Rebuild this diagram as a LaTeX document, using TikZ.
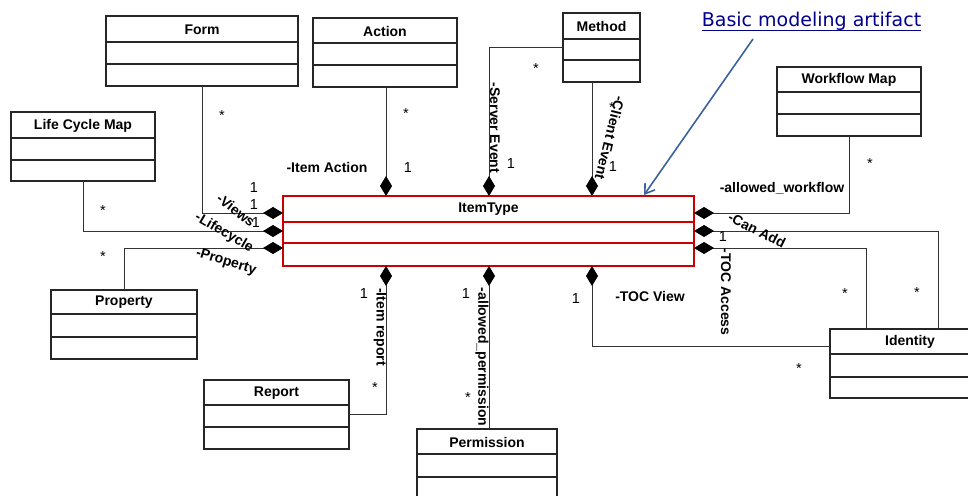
\documentclass[tikz,border=0pt]{standalone}
\usepackage{fontspec}
\setmainfont{Liberation Sans}
\newfontfamily\linkfont{DejaVu Sans}
\usetikzlibrary{arrows.meta,fit}
\definecolor{itred}{RGB}{204,0,0}
\definecolor{notecol}{RGB}{59,98,158}
\definecolor{linkcol}{RGB}{0,0,140}

% class box: [style]{name}{title}{x1}{y1}{x2}{y2}{first separator y}{second separator y}
\newcommand\umlclass[9][]{%
  \node[cls,#1,fit={(#4,#5)(#6,#7)}] (#2) {};
  \node[cname] (#2-name) at ({(#4+#6)/2},{(#5+#8)/2+0.5}) {#3};
  \draw[sep,#1] (#4,#8) -- (#6,#8) (#4,#9) -- (#6,#9);
}

\begin{document}
\begin{tikzpicture}[x=1pt,y=-1pt,
  cls/.style={draw=black!85,line width=1.2pt,inner sep=0pt,outer sep=0pt},
  sep/.style={draw=black!85,line width=1.2pt},
  redcls/.style={draw=itred,line width=1.5pt},
  cname/.style={font=\bfseries\fontsize{14}{16}\selectfont,inner sep=0pt},
  assoc/.style={draw=black!80,line width=0.9pt},
  comp/.style={assoc,{Diamond[length=20pt,width=12pt,black]}-},
  role/.style={font=\bfseries\fontsize{14}{16}\selectfont,inner sep=0pt},
  mult/.style={font=\fontsize{14.5}{16}\selectfont,inner sep=0pt},
  note/.style={draw=notecol,line width=1.6pt,-{Straight Barb[length=9pt,width=12pt]}},
]
\useasboundingbox (0,0) rectangle (968,495);
\clip (0,0) rectangle (968,495);

% classes
\umlclass{form}{Form}{106}{16}{298}{86}{42}{64}
\umlclass{action}{Action}{313}{18}{457}{87}{43}{65}
\umlclass{method}{Method}{563}{13}{640}{82}{39}{60}
\umlclass{lcm}{Life Cycle Map}{11}{112}{155}{181}{138}{160}
\umlclass[redcls]{itemtype}{ItemType}{283}{196}{694}{266}{222}{243}
\umlclass{workflow}{Workflow Map}{777}{67}{921}{136}{92}{114}
\umlclass{property}{Property}{51}{290}{197}{359}{314}{337}
\umlclass{report}{Report}{204}{380}{349}{449}{405}{427}
\umlclass{permission}{Permission}{417}{429}{557}{502}{454}{477}
\umlclass{identity}{Identity}{830}{329}{990}{398}{354}{377}

% composition ends on ItemType
\coordinate (p-views) at (283,213);
\coordinate (p-life)  at (283,231);
\coordinate (p-prop)  at (283,248);
\coordinate (p-act)   at (386,196);
\coordinate (p-srv)   at (489,196);
\coordinate (p-cli)   at (592,196);
\coordinate (p-rep)   at (386,266);
\coordinate (p-perm)  at (489,266);
\coordinate (p-toc)   at (592,266);
\coordinate (p-wf)    at (694,213);
\coordinate (p-add)   at (694,231);
\coordinate (p-acc)   at (694,248);
% entry points on Identity
\coordinate (toc-in) at (830,346);
\coordinate (add-in) at (938,329);
\coordinate (acc-in) at (866,329);

% associations
\draw[comp] (p-views) -| (form.south);
\draw[comp] (p-life) -| (lcm.south);
\draw[comp] (p-prop) -| (property.north);
\draw[comp] (p-act) -- (p-act |- action.south);
\draw[comp] (p-srv) |- (method.west);
\draw[comp] (p-cli) -- (p-cli |- method.south);
\draw[comp] (p-rep) |- (report.east);
\draw[comp] (p-perm) -- (p-perm |- permission.north);
\draw[comp] (p-toc) |- (toc-in);
\draw[comp] (p-wf) -| (workflow.south);
\draw[comp] (p-add) -| (add-in);
\draw[comp] (p-acc) -| (acc-in);

% role names
\node[role] (r-act) at (327,167) {-Item Action};
\node[role,rotate=-90] (r-srv) at (495,128) {-Server Event};
\node[role,rotate=-104] (r-cli) at (610,138) {-Client Event};
\node[role,rotate=-38] (r-views) at (236,210) {-Views};
\node[role,rotate=-30] (r-life) at (224,233) {-Lifecycle};
\node[role,rotate=-17] (r-prop) at (226,262) {-Property};
\node[role,rotate=-90] (r-rep) at (380,327) {-Item report};
\node[role,rotate=-90] (r-perm) at (482,357) {-allowed\_permission};
\node[role] (r-toc) at (650,296) {-TOC View};
\node[role,rotate=-90] (r-acc) at (726,292) {-TOC Access};
\node[role,rotate=-27] (r-add) at (757,230) {-Can Add};
\node[role] (r-wf) at (782,188) {-allowed\_workflow};

% multiplicities
\node[mult] (m1)  at (408,168) {1};
\node[mult] (m2)  at (406,114) {*};
\node[mult] (m3)  at (222,116) {*};
\node[mult] (m4)  at (511,164) {1};
\node[mult] (m5)  at (536,69) {*};
\node[mult] (m6)  at (612,108) {*};
\node[mult] (m7)  at (613,167) {1};
\node[mult] (m8)  at (254,188) {1};
\node[mult] (m9)  at (254,205) {1};
\node[mult] (m10) at (256,223) {1};
\node[mult] (m11) at (103,211) {*};
\node[mult] (m12) at (103,257) {*};
\node[mult] (m13) at (364,294) {1};
\node[mult] (m14) at (375,388) {*};
\node[mult] (m15) at (466,294) {1};
\node[mult] (m16) at (468,398) {*};
\node[mult] (m17) at (576,299) {1};
\node[mult] (m18) at (723,237) {1};
\node[mult] (m19) at (870,164) {*};
\node[mult] (m20) at (845,294) {*};
\node[mult] (m21) at (917,293) {*};
\node[mult] (m22) at (799,369) {*};

% annotation
\node[font=\linkfont\fontsize{19}{22}\selectfont,text=linkcol,inner sep=0pt,anchor=base]
  (lnk) at (811.5,27) {Basic modeling artifact};
\draw[draw=linkcol,line width=1pt] ([yshift=-3.5pt]lnk.base west) -- ([yshift=-3.5pt]lnk.base east);
\coordinate (note-from) at (753,39);
\coordinate (note-tip) at (644,195);
\draw[note] (note-from) -- (note-tip);
\end{tikzpicture}
\end{document}
